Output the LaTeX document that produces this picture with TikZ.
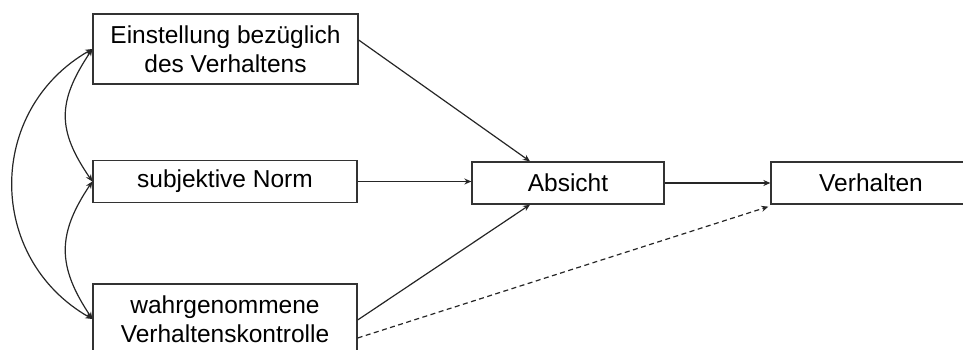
\documentclass[tikz,border=0pt]{standalone}
\usepackage{fontspec}
\setmainfont{Liberation Sans}
\usetikzlibrary{arrows.meta}

\tikzset{
  box/.style={draw=black!80, line width=1.3pt, fill=white, inner sep=0pt,
              align=center, font=\fontsize{24.5}{28.5}\selectfont},
  link/.style={draw=black!85, line width=1.2pt,
               -{Stealth[length=7pt,width=6pt]}},
  corr/.style={draw=black!85, line width=1.2pt,
               {Stealth[length=7pt,width=6pt]}-{Stealth[length=7pt,width=6pt]}},
  weak/.style={link, dash pattern=on 5pt off 3.5pt}
}

\begin{document}
\begin{tikzpicture}[x=1pt, y=-1pt]
  \useasboundingbox (0,0) rectangle (963,350);
  \clip (0,0) rectangle (963,350);

  % predictors
  \node[box, minimum width=265pt, minimum height=70pt] (b1) at (225.5,49)
    {Einstellung bezüglich\\des Verhaltens};
  \node[box, minimum width=264pt, minimum height=42pt] (b2) at (225,181.5)
    {subjektive Norm};
  \node[box, minimum width=264pt, minimum height=70pt] (b3) at (225,319)
    {wahrgenommene\\Verhaltenskontrolle};

  % intention and behaviour
  \node[box, minimum width=192pt, minimum height=42pt] (ab) at (568,183)
    {Absicht};
  \node[box, minimum width=200pt, minimum height=42pt] (vh) at (871,183)
    {Verhalten};

  % paths into the intention
  \draw[link] ([yshift=9pt]b1.east) -- ([xshift=-38pt]ab.north);
  \draw[link] (b2.east) -- (b2.east -| ab.west);
  \draw[link] ([yshift=-1pt]b3.east) -- ([xshift=-38pt]ab.south);

  % intention to behaviour, and direct path from control
  \draw[link] (ab.east) -- (vh.west);
  \draw[weak] ([yshift=-19pt]b3.east) -- ([xshift=-2pt,yshift=-2pt]vh.south west);

  % correlations between the predictors
  \draw[corr] (b1.west) .. controls (57,102) and (57,130) .. (b2.west);
  \draw[corr] (b2.west) .. controls (57,234) and (57,266) .. (b3.west);
  \draw[corr] (b1.west) .. controls (-14,110) and (-14,258) .. (b3.west);
\end{tikzpicture}
\end{document}
